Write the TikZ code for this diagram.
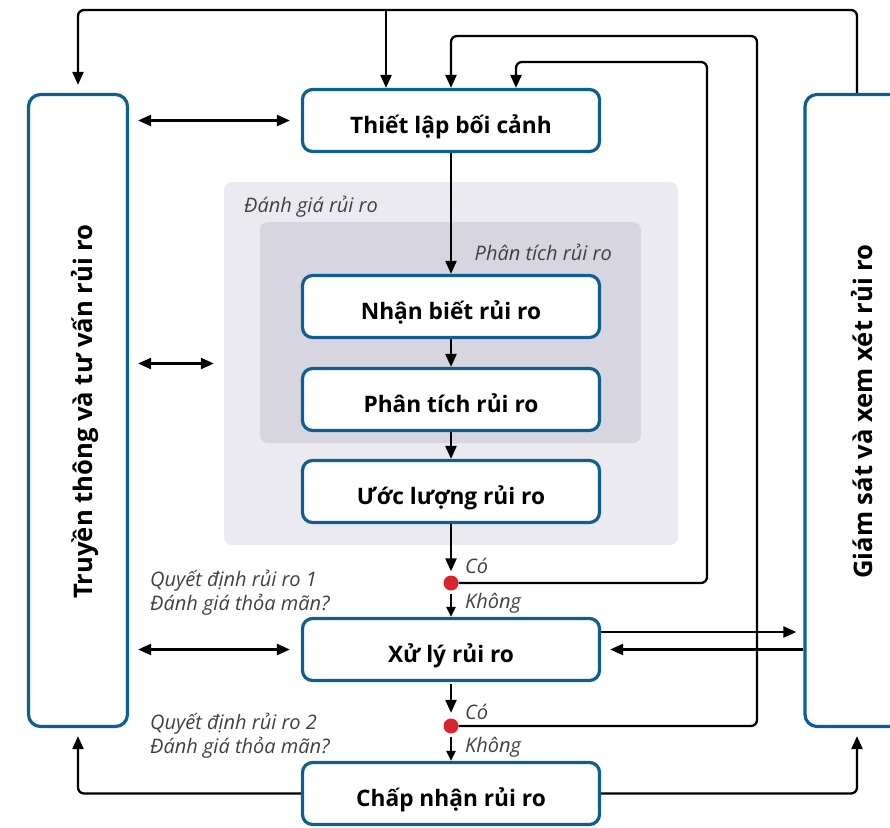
\documentclass[tikz,border=0pt]{standalone}
\usepackage{fontspec}
\setmainfont{Open Sans}
\usetikzlibrary{arrows.meta}
\definecolor{boxblue}{HTML}{0E5E8E}
\definecolor{dotred}{HTML}{D9262E}
\definecolor{labelgray}{HTML}{404040}
\definecolor{outergray}{HTML}{EBEAF0}
\definecolor{innergray}{HTML}{D7D5DF}
\begin{document}
\begin{tikzpicture}[x=1pt,y=-1pt,
  proc/.style={draw=boxblue, line width=3.2pt, rounded corners=10pt, fill=white,
    minimum width=297pt, minimum height=62pt, inner sep=0pt,
    text height=26pt, text depth=0pt,
    font=\fontsize{22.7}{26}\selectfont\bfseries},
  side/.style={draw=boxblue, line width=3.2pt, rounded corners=12pt, fill=white,
    minimum width=99pt, minimum height=632pt, inner sep=0pt},
  vtext/.style={rotate=90, inner sep=0pt, anchor=base, font=\fontsize{25.6}{30}\selectfont\bfseries},
  conn/.style={line width=2.3pt, -{Triangle[length=13pt,width=11pt]}},
  sconn/.style={line width=2.3pt, -{Triangle[length=10pt,width=9pt]}},
  dconn/.style={line width=2.3pt, {Triangle[length=13pt,width=11pt]}-{Triangle[length=13pt,width=11pt]}},
  lbl/.style={font=\fontsize{20}{24}\selectfont\itshape, text=labelgray, inner sep=0pt},
  dot/.style={circle, fill=dotred, minimum size=15pt, inner sep=0pt},
  panel/.style={rounded corners=8pt, inner sep=0pt}
]
\useasboundingbox (0,0) rectangle (890,827);
\clip (0,0) rectangle (890,827);

% grey panels
\node[panel, fill=outergray, minimum width=454pt, minimum height=363pt] (assess) at (451,363.5) {};
\node[panel, fill=innergray, minimum width=381pt, minimum height=221pt] (analysis) at (450.5,332.5) {};
\node[lbl, anchor=base west] (assesslbl) at (244,212.5) {Đánh giá rủi ro};
\node[lbl, anchor=base east] (analysislbl) at (612,260.5) {Phân tích rủi ro};

% side boxes
\node[side] (comm) at (78,410.5) {};
\node[side, minimum width=104pt] (mon) at (857,410.5) {};
\node[vtext] (commtxt) at (92,411.5) {Truyền thông và tư vấn rủi ro};
\node[vtext] (montxt) at (872,411.5) {Giám sát và xem xét rủi ro};

% process boxes
\node[proc] (setup) at (451,120.5) {Thiết lập bối cảnh};
\node[proc] (ident) at (451,306.5) {Nhận biết rủi ro};
\node[proc] (anal) at (451,399.5) {Phân tích rủi ro};
\node[proc] (est) at (451,491.5) {Ước lượng rủi ro};
\node[proc] (treat) at (451,649.5) {Xử lý rủi ro};
\node[proc] (accept) at (451,793.5) {Chấp nhận rủi ro};

% decision dots
\node[dot] (d1) at (451,583) {};
\node[dot] (d2) at (451,726) {};

% labels
\node[lbl, anchor=base west] (yes1) at (465,573) {Có};
\node[lbl, anchor=base west] (no1) at (465,608) {Không};
\node[lbl, anchor=base west] (yes2) at (465,719) {Có};
\node[lbl, anchor=base west] (no2) at (465,752) {Không};
\node[lbl, anchor=base west] (q1a) at (150,586.5) {Quyết định rủi ro 1};
\node[lbl, anchor=base west] (q1b) at (150,610.5) {Đánh giá thỏa mãn?};
\node[lbl, anchor=base west] (q2a) at (150,729.5) {Quyết định rủi ro 2};
\node[lbl, anchor=base west] (q2b) at (150,753) {Đánh giá thỏa mãn?};

% coordinates
\coordinate (c1) at (707,62);
\coordinate (c2) at (757,36);
\coordinate (c3) at (78,10);
\coordinate (j1) at (386,10);
\coordinate (tm) at (treat.east -| mon.west);
\coordinate (cs) at (comm.east |- setup.west);
\coordinate (ca) at (comm.east |- assess.west);
\coordinate (ct) at (comm.east |- treat.west);

% main flow
\draw[conn] (setup.south) -- (ident.north);
\draw[conn] (ident.south) -- (anal.north);
\draw[conn] (anal.south) -- (est.north);
\draw[conn] (est.south) -- ([yshift=4pt]d1.north);
\draw[sconn] ([yshift=-3.5pt]d1.south) -- (treat.north);
\draw[conn] ([yshift=-2pt]treat.south) -- ([yshift=5.5pt]d2.north);
\draw[sconn] ([yshift=-3.5pt]d2.south) -- (accept.north);

% feedback loops
\draw[conn, rounded corners=6pt] (d1.east) -| (c1) -| ([xshift=65pt]setup.north);
\draw[conn, rounded corners=6pt] (d2.east) -| (c2) -| (setup.north);
\draw[conn, rounded corners=6pt] (mon.north) |- (c3) -- ([yshift=8pt]comm.north);
\draw[conn] (j1) -- (j1 |- setup.north);
\draw[conn, rounded corners=6pt] (accept.west) -| ([yshift=-8pt]comm.south);
\draw[conn, rounded corners=6pt] (accept.east) -| ([yshift=-8pt]mon.south);

% treatment <-> monitoring
\draw[conn] ([yshift=17.5pt]treat.east) -- ([xshift=-7pt,yshift=17.5pt]tm);
\draw[conn] (tm) -- ([xshift=9pt]treat.east);

% communication double arrows
\draw[dconn] ([xshift=9pt]cs) -- ([xshift=-11pt]setup.west);
\draw[dconn] ([xshift=9pt]ca) -- ([xshift=-10pt]assess.west);
\draw[dconn] ([xshift=9pt]ct) -- ([xshift=-11pt]treat.west);
\end{tikzpicture}
\end{document}
